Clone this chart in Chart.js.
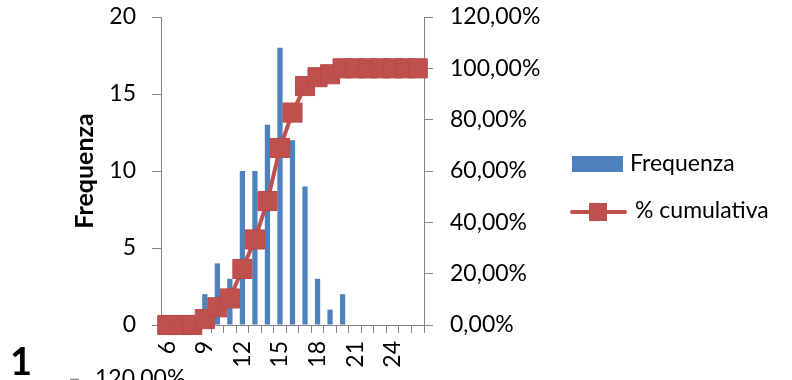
<!DOCTYPE html>
<html><head><meta charset="utf-8">
<script src="https://cdn.jsdelivr.net/npm/chart.js@4.4.0/dist/chart.umd.min.js"></script>
<style>html,body{margin:0;padding:0;background:#fff;}#wrap{position:relative;width:792px;height:380px;overflow:hidden;}</style>
</head><body><div id="wrap"><canvas id="c" width="792" height="380"></canvas></div>
<script>
const categories = ['6','7','8','9','10','11','12','13','14','15','16','17','18','19','20','21','22','23','24','25','26'];
const frequenza = [0,0,0,2,4,3,10,10,13,18,12,9,3,1,2,0,0,0,0,0,0];
const cumulativa = [0,0,0,0.023,0.069,0.1034,0.2184,0.3333,0.4828,0.6897,0.8276,0.931,0.9655,0.977,1,1,1,1,1,1,1];
const leftTicks = [0,5,10,15,20];
const rightTicks = [0,0.2,0.4,0.6,0.8,1.0,1.2];
const seriesNames = ['Frequenza','% cumulativa'];
const axisTitle = 'Frequenza';
const sideNote = '1';
const nextChartTick = '120,00%';

const BLUE = '#4F81BD', RED = '#C0504D', AX = '#868686';
const FONT = 'Lato';

const extras = {
  id: 'extras',
  afterDraw(chart) {
    const ctx = chart.ctx;
    ctx.save();
    // legend
    ctx.fillStyle = BLUE;
    ctx.fillRect(572, 156, 51, 16);
    ctx.fillStyle = '#000';
    ctx.font = '23px ' + FONT;
    ctx.textAlign = 'left';
    ctx.textBaseline = 'middle';
    ctx.fillText(chart.data.datasets[1].label, 630, 164);
    ctx.strokeStyle = RED;
    ctx.lineWidth = 4;
    ctx.lineCap = 'round';
    ctx.beginPath(); ctx.moveTo(572, 212); ctx.lineTo(625, 212); ctx.stroke();
    ctx.fillStyle = RED;
    ctx.fillRect(589, 203, 18, 18);
    ctx.fillStyle = '#000';
    ctx.fillText(chart.data.datasets[0].label, 635, 211);
    // text belonging to the next chart below
    ctx.font = 'bold 38px ' + FONT;
    ctx.textBaseline = 'alphabetic';
    ctx.fillText(sideNote, 10, 375);
    ctx.font = '23px ' + FONT;
    ctx.fillText(nextChartTick, 95, 386);
    ctx.strokeStyle = AX; ctx.lineWidth = 1.5; ctx.lineCap = 'butt';
    ctx.beginPath(); ctx.moveTo(70, 379.5); ctx.lineTo(79, 379.5); ctx.stroke();
    ctx.restore();
  }
};

function noPad(s) { s.paddingTop = 0; s.paddingBottom = 0; s.paddingLeft = 0; s.paddingRight = 0; }

new Chart(document.getElementById('c'), {
  type: 'bar',
  data: {
    labels: categories,
    datasets: [
      {
        type: 'line', label: seriesNames[1], data: cumulativa, yAxisID: 'y1', order: 0,
        borderColor: RED, borderWidth: 4, backgroundColor: RED,
        pointStyle: 'rect', pointRadius: 13.5, pointBackgroundColor: RED,
        pointBorderColor: '#B94A47', pointBorderWidth: 1, tension: 0, clip: false
      },
      {
        type: 'bar', label: seriesNames[0], data: frequenza, yAxisID: 'y', order: 1,
        backgroundColor: BLUE, barPercentage: 0.42, categoryPercentage: 1
      }
    ]
  },
  options: {
    responsive: false, animation: false, devicePixelRatio: 1,
    layout: { padding: { top: 17, right: 0, bottom: 0, left: 0 } },
    plugins: { legend: { display: false }, tooltip: { enabled: false } },
    scales: {
      x: {
        offset: true,
        grid: { offset: true, drawOnChartArea: false, drawTicks: true, tickLength: 8, color: AX, lineWidth: 1 },
        border: { display: true, color: AX, width: 1 },
        ticks: {
          autoSkip: false, maxRotation: 90, minRotation: 90, padding: 8,
          color: '#000', font: { family: FONT, size: 23 },
          callback: function(v, i) { return (i % 3 === 0) ? this.getLabelForValue(v) : ''; }
        },
        afterFit(s) { s.height = 55; noPad(s); }
      },
      y: {
        position: 'left', min: 0, max: 20,
        afterBuildTicks(s) { s.ticks = leftTicks.map(v => ({ value: v })); },
        grid: { drawOnChartArea: false, drawTicks: true, tickLength: 9, color: AX },
        border: { display: true, color: AX, width: 1 },
        ticks: { padding: 16, color: '#000', font: { family: FONT, size: 23 } },
        title: { display: true, text: axisTitle, color: '#000', font: { family: FONT, size: 25, weight: 'bold' }, padding: { top: 70, bottom: 0 } },
        afterFit(s) { s.width = 161; noPad(s); }
      },
      y1: {
        position: 'right', min: 0, max: 1.2,
        afterBuildTicks(s) { s.ticks = rightTicks.map(v => ({ value: v })); },
        grid: { drawOnChartArea: false, drawTicks: true, tickLength: 9, color: AX },
        border: { display: true, color: AX, width: 1 },
        ticks: {
          padding: 17, color: '#000', font: { family: FONT, size: 23 },
          callback: v => (v * 100).toFixed(2).replace('.', ',') + '%'
        },
        afterFit(s) { s.width = 792 - 424; noPad(s); }
      }
    }
  },
  plugins: [extras]
});
</script>
</body></html>
